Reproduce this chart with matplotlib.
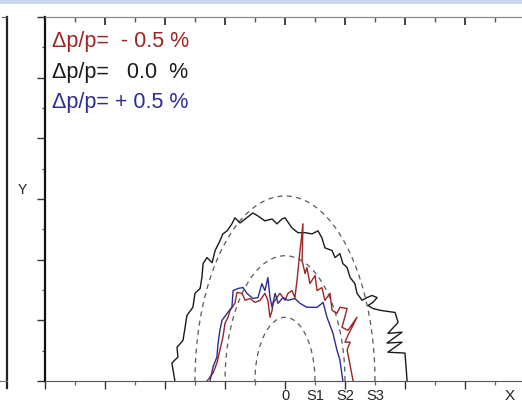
import numpy as np
import matplotlib
matplotlib.use('Agg')
import matplotlib.pyplot as plt
from matplotlib.lines import Line2D
from matplotlib.patches import Rectangle
from matplotlib.ticker import MultipleLocator, NullFormatter

plt.rcParams['font.family'] = ['Liberation Sans', 'DejaVu Sans']

# --- data (x in tick units, y in tick units) ---
black_x = [-3.67, -3.77, -3.57, -3.6, -3.4, -3.33, -3.27, -3.07, -3.0, -2.83, -2.77, -2.73,
           -2.6, -2.43, -2.33, -2.17, -2.07, -1.93, -1.77, -1.67, -1.5, -1.33, -1.07, -0.9,
           -0.67, -0.43, -0.27, -0.1, 0.0, 0.23, 0.43, 0.67, 0.9, 1.1, 1.23, 1.33, 1.57, 1.67,
           1.83, 1.93, 2.07, 2.17, 2.33, 2.4, 2.57, 2.73, 2.9, 3.07, 2.93, 2.77, 2.93, 3.17,
           3.67, 3.77, 3.43, 3.9, 3.4, 3.9, 3.43, 4.0, 4.07]
black_y = [0.0, 0.59, 0.79, 1.11, 1.34, 1.77, 2.16, 2.43, 2.89, 3.05, 3.41, 3.87,
           4.07, 3.90, 4.30, 4.62, 4.85, 4.95, 5.18, 5.38, 5.21, 5.34, 5.54, 5.44,
           5.28, 5.34, 5.18, 5.34, 5.38, 5.05, 4.89, 4.89, 4.85, 4.95, 4.72, 4.39, 4.30, 4.07,
           4.20, 3.87, 3.74, 3.41, 3.21, 2.89, 2.66, 2.75, 2.82, 2.75, 2.59, 2.49, 2.39, 2.33,
           2.26, 1.93, 1.57, 1.61, 1.25, 1.28, 0.95, 0.92, 0.0]

red_x = [-2.6, -2.4, -2.27, -2.17, -2.07, -2.0, -1.9, -1.83, -1.67, -1.6, -1.43, -1.33,
         -1.17, -1.0, -0.83, -0.67, -0.57, -0.5, -0.43, -0.4, -0.17, 0.0, 0.1, 0.23, 0.33,
         0.4, 0.5, 0.6, 0.57, 0.67, 0.73, 0.83, 1.0, 1.07, 1.23, 1.33, 1.5, 1.57, 1.73, 1.83,
         2.07, 1.9, 2.1, 2.4, 2.1, 2.0, 2.17, 2.07, 2.17, 2.27]
red_y = [0.0, 0.26, 0.59, 1.02, 1.44, 1.90, 2.10, 2.33, 2.56, 2.92, 2.89, 2.66,
         2.72, 2.59, 2.66, 2.89, 2.66, 2.10, 2.33, 2.56, 2.89, 2.66, 2.89, 2.98, 2.75,
         3.31, 4.30, 5.18, 3.97, 3.54, 3.74, 3.21, 3.48, 2.98, 3.08, 2.66, 2.89, 2.33, 2.23, 2.43,
         2.39, 1.77, 1.67, 2.10, 1.51, 1.28, 1.28, 1.02, 0.52, 0.0]

blue_x = [-2.5, -2.4, -2.27, -2.23, -2.17, -2.1, -1.93, -1.77, -1.73, -1.57, -1.4, -1.27,
          -1.07, -0.9, -0.77, -0.67, -0.57, -0.5, -0.43, -0.33, -0.23, -0.07, 0.1, 0.33, 0.5,
          0.73, 1.07, 1.27, 1.4, 1.6, 1.73, 1.83, 1.93]
blue_y = [0.0, 0.46, 0.79, 1.25, 1.67, 2.0, 2.23, 2.43, 2.98, 3.05, 3.08, 2.89,
          2.72, 2.75, 3.21, 2.98, 3.41, 2.75, 2.43, 2.89, 2.56, 2.75, 2.66, 2.72, 2.56,
          2.43, 2.43, 2.59, 2.10, 1.57, 1.02, 0.69, 0.0]

# dashed reference ellipses: half widths / heights
ell_a = [1.0, 2.0, 3.0]
ell_b = [2.1, 4.13, 6.1]

legend_texts = ['\u0394p/p=  - 0.5 %', '\u0394p/p=   0.0  %', '\u0394p/p= + 0.5 %']
legend_colors = ['#9e2424', '#1a1a1a', '#2c2c96']

xtick_pos = [0, 1, 2, 3]
xtick_lab = ['0', 'S1', 'S2', 'S3']

W, H = 522, 404
fig = plt.figure(figsize=(W / 100, H / 100), dpi=100)

# light band at the very top of the crop
fig.add_artist(Rectangle((0, 1 - 4 / H), 1, 4 / H, transform=fig.transFigure,
                         color='#c9d7ea', lw=0))

# edge of the neighbouring panel on the left
fig.add_artist(Line2D([7 / W, 7 / W], [1 - 388 / H, 1 - 17 / H], color='#222222', lw=1.6))
fig.add_artist(Line2D([0, 7 / W], [1 - 381 / H, 1 - 381 / H], color='#777777', lw=0.8))
fig.add_artist(Line2D([2 / W, 7 / W], [1 - 17 / H, 1 - 17 / H], color='#555555', lw=0.8))

ax = fig.add_axes([45 / W, 23 / H, 1 - 45 / W, 364 / H])
ax.set_xlim(-8, 7.9)
ax.set_ylim(0, 12)

# dashed ellipses
t = np.linspace(0, np.pi, 200)
for a, b in zip(ell_a, ell_b):
    ax.plot(a * np.cos(t), b * np.sin(t), color='#5a5a5a', lw=0.9, ls=(0, (4, 3.5)))

ax.plot(black_x, black_y, color='#1a1a1a', lw=1.0)
ax.plot(red_x, red_y, color='#9e2424', lw=1.0)
ax.plot(blue_x, blue_y, color='#2c2c96', lw=1.0)

for i, (s, c) in enumerate(zip(legend_texts, legend_colors)):
    ax.text(-7.77, 11.18 - i * 1.0, s, color=c, fontsize=15.5, ha='left', va='center')

# spines
ax.spines['right'].set_visible(False)
ax.spines['left'].set_color('#111111')
ax.spines['left'].set_linewidth(1.6)
ax.spines['bottom'].set_color('#555555')
ax.spines['top'].set_color('#8a8a8a')

# ticks: even = long, odd = short
ax.xaxis.set_major_locator(MultipleLocator(2))
ax.xaxis.set_minor_locator(MultipleLocator(1))
ax.yaxis.set_major_locator(MultipleLocator(2))
ax.yaxis.set_minor_locator(MultipleLocator(1))
ax.xaxis.set_major_formatter(NullFormatter())
ax.yaxis.set_major_formatter(NullFormatter())
ax.tick_params(axis='x', which='major', direction='out', length=6, width=1.0, color='#333333')
ax.tick_params(axis='x', which='minor', direction='out', length=3, width=0.9, color='#666666')
ax.tick_params(axis='y', which='major', direction='out', length=6, width=1.0, color='#333333')
ax.tick_params(axis='y', which='minor', direction='out', length=2, width=0.9, color='#555555')

# top ticks point into the plot
top = ax.secondary_xaxis('top')
top.spines['top'].set_color('#8a8a8a')
top.set_xticks(np.arange(-8, 8, 2))
top.set_xticks(np.arange(-7, 8, 2), minor=True)
top.xaxis.set_major_formatter(NullFormatter())
top.tick_params(which='major', direction='in', length=6, width=1.2, color='#222222')
top.tick_params(which='minor', direction='in', length=3.5, width=1.0, color='#555555')

for p, lab in zip(xtick_pos, xtick_lab):
    ax.text(p, -0.48, lab, fontsize=10.5, ha='center', va='center', color='#222222',
            clip_on=False)
ax.text(7.5, -0.48, 'X', fontsize=11, ha='center', va='center', color='#222222')
ax.text(-8.77, 6.3, 'Y', fontsize=10, ha='center', va='center', color='#222222',
        clip_on=False)

fig.savefig('out.png', dpi=100)
